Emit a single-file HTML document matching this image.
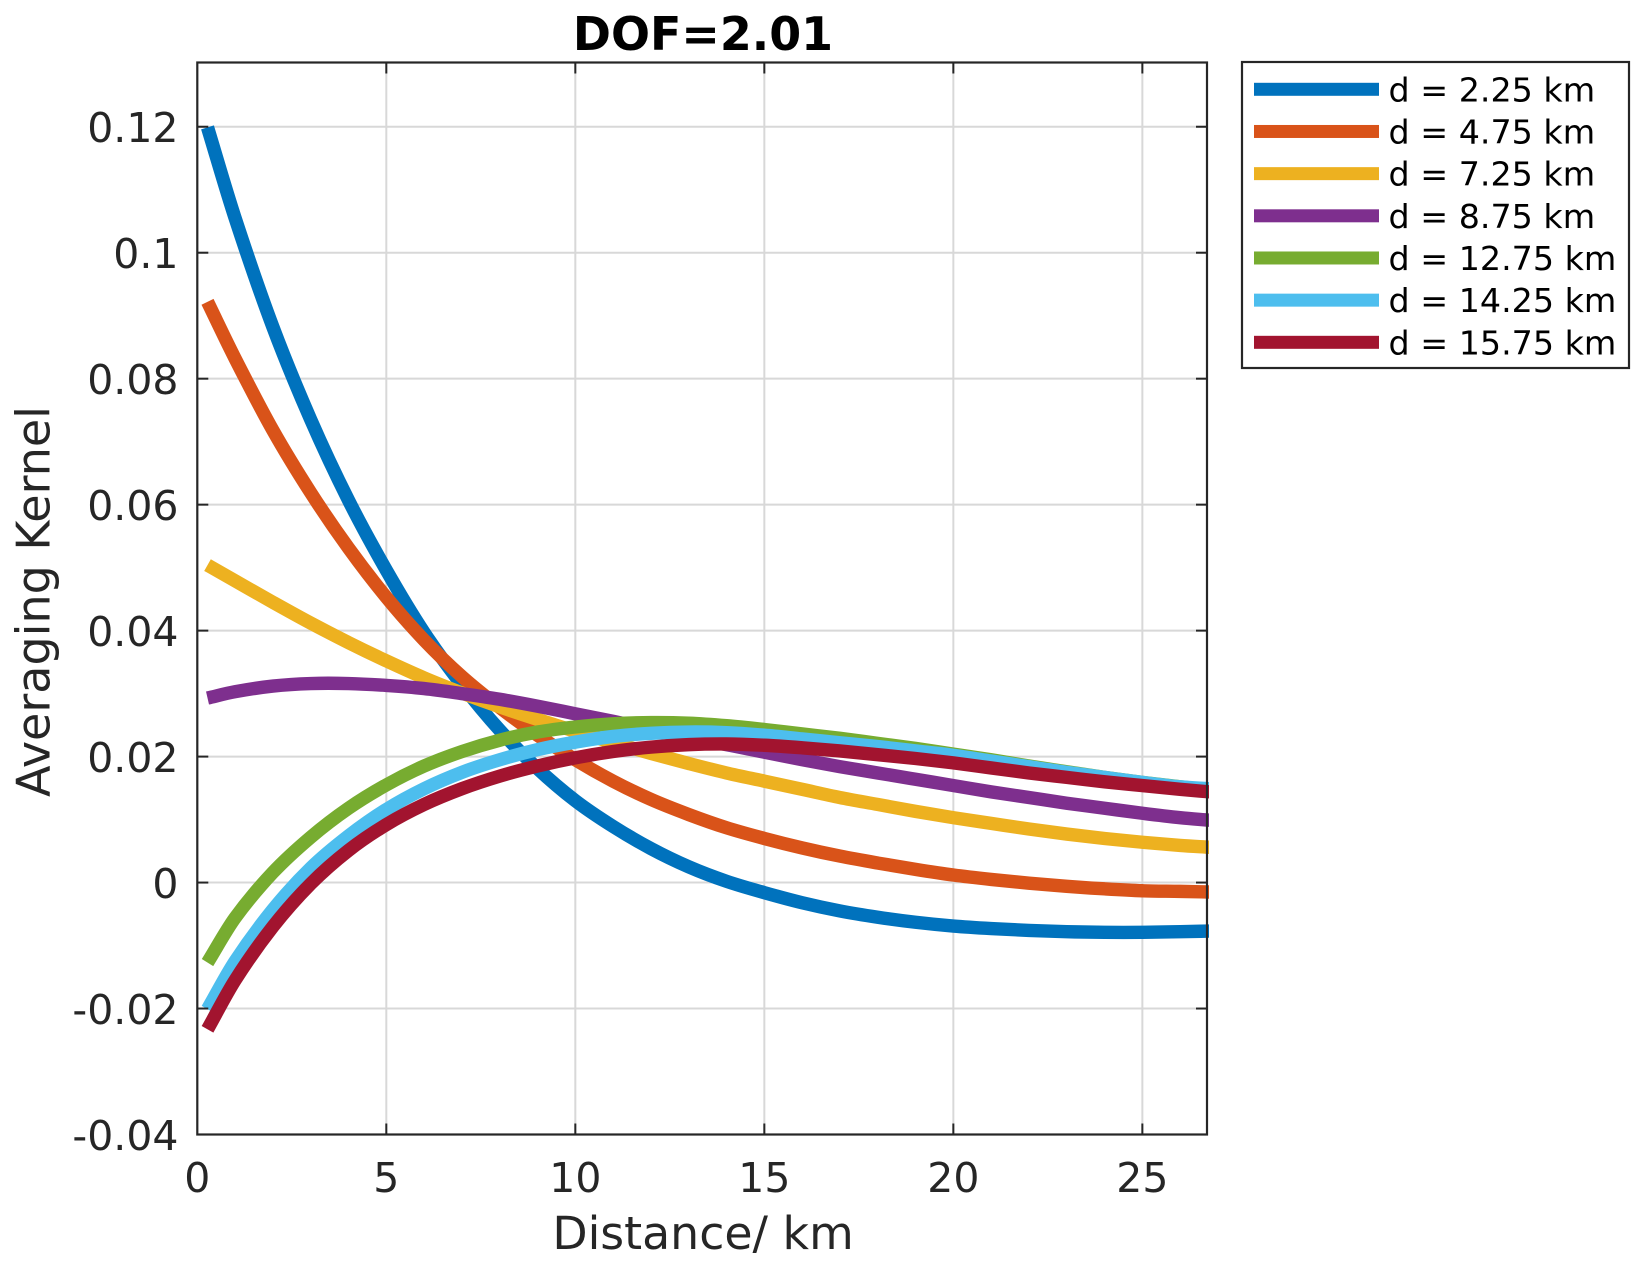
<!DOCTYPE html>
<html lang="en">
<head>
<meta charset="utf-8">
<title>DOF=2.01 Averaging Kernel</title>
<style>
  html, body { margin: 0; padding: 0; background: #ffffff; }
  svg { display: block; }
  text { font-family: "DejaVu Sans", "Liberation Sans", sans-serif; }
</style>
</head>
<body>
<svg id="chart" xmlns="http://www.w3.org/2000/svg" width="1652" height="1268" viewBox="0 0 1652 1268">
  <rect x="0" y="0" width="1652" height="1268" fill="#ffffff"/>
  <defs>
    <clipPath id="plot-clip"><rect x="197" y="60" width="1012" height="1076"/></clipPath>
  </defs>
  <g id="grid"></g>
  <g id="series" clip-path="url(#plot-clip)"></g>
  <g id="axes"></g>
  <text x="703" y="50" text-anchor="middle" font-size="45.9" font-weight="bold" fill="#000000">DOF=2.01</text>
  <text x="703" y="1249" text-anchor="middle" font-size="45.8" fill="#262626">Distance/ km</text>
  <text transform="translate(49.5,601.5) rotate(-90)" text-anchor="middle" font-size="46" fill="#262626">Averaging Kernel</text>
  <g id="legend"></g>
</svg>
<script>
const xTicks = [0, 5, 10, 15, 20, 25];
const yTicks = [-0.04, -0.02, 0, 0.02, 0.04, 0.06, 0.08, 0.1, 0.12];
const yTickLabels = ["-0.04", "-0.02", "0", "0.02", "0.04", "0.06", "0.08", "0.1", "0.12"];
const distance = [0.27, 1, 2, 3, 4, 5, 6, 7, 8, 9, 10, 11, 12, 13, 14, 15, 16, 17, 18, 19, 20, 21, 22, 23, 24, 25, 26, 26.78];
const seriesNames = ["d = 2.25 km", "d = 4.75 km", "d = 7.25 km", "d = 8.75 km", "d = 12.75 km", "d = 14.25 km", "d = 15.75 km"];
const seriesColors = ["#0072bd", "#d95319", "#edb120", "#7e2f8e", "#77ac30", "#4dbeee", "#a2142f"];
const kernelD225 = [0.1199, 0.1055, 0.0882, 0.0735, 0.0607, 0.0496, 0.0397, 0.0314, 0.0242, 0.0181, 0.0130, 0.0089, 0.0054, 0.0025, 0.0002, -0.0016, -0.0032, -0.0045, -0.0055, -0.0063, -0.0069, -0.0073, -0.0076, -0.0078, -0.0079, -0.0079, -0.0078, -0.0077];
const kernelD475 = [0.0922, 0.0832, 0.0718, 0.0619, 0.0531, 0.0453, 0.0385, 0.0327, 0.0278, 0.0234, 0.0195, 0.0161, 0.0132, 0.0108, 0.0087, 0.0070, 0.0055, 0.0042, 0.0031, 0.0021, 0.0012, 0.0005, -0.0001, -0.0006, -0.0010, -0.0013, -0.0014, -0.0015];
const kernelD725 = [0.0504, 0.0479, 0.0445, 0.0412, 0.0381, 0.0352, 0.0325, 0.0301, 0.0279, 0.0259, 0.0240, 0.0222, 0.0205, 0.0189, 0.0174, 0.0161, 0.0148, 0.0135, 0.0124, 0.0113, 0.0103, 0.0094, 0.0085, 0.0077, 0.0070, 0.0064, 0.0059, 0.0056];
const kernelD875 = [0.0293, 0.0303, 0.0312, 0.0316, 0.0316, 0.0313, 0.0308, 0.0300, 0.0291, 0.0280, 0.0268, 0.0256, 0.0243, 0.0231, 0.0219, 0.0207, 0.0195, 0.0184, 0.0174, 0.0164, 0.0154, 0.0144, 0.0135, 0.0126, 0.0118, 0.0110, 0.0103, 0.0099];
const kernelD1275 = [-0.0127, -0.0056, 0.0016, 0.0072, 0.0118, 0.0155, 0.0185, 0.0208, 0.0226, 0.0239, 0.0247, 0.0252, 0.0254, 0.0253, 0.0249, 0.0243, 0.0236, 0.0229, 0.0221, 0.0213, 0.0204, 0.0195, 0.0185, 0.0176, 0.0167, 0.0159, 0.0152, 0.0147];
const kernelD1425 = [-0.0201, -0.0125, -0.0043, 0.0023, 0.0074, 0.0116, 0.0149, 0.0175, 0.0195, 0.0211, 0.0223, 0.0232, 0.0237, 0.0239, 0.0238, 0.0234, 0.0228, 0.0222, 0.0216, 0.0209, 0.0202, 0.0193, 0.0184, 0.0175, 0.0167, 0.0159, 0.0152, 0.0149];
const kernelD1575 = [-0.0233, -0.0155, -0.0070, -0.0002, 0.0051, 0.0092, 0.0124, 0.0149, 0.0169, 0.0185, 0.0198, 0.0208, 0.0215, 0.0219, 0.0220, 0.0218, 0.0214, 0.0209, 0.0203, 0.0197, 0.0190, 0.0182, 0.0174, 0.0167, 0.0160, 0.0154, 0.0148, 0.0144];
const kernels = [kernelD225, kernelD475, kernelD725, kernelD875, kernelD1275, kernelD1425, kernelD1575];

const NS = "http://www.w3.org/2000/svg";
const plotLeft = 197.3, plotRight = 1207, plotTop = 62.5, plotBottom = 1134.5;
const xMin = 0, xMax = 26.71, yMin = -0.04, yMax = 0.1302;
function xScale(v) { return plotLeft + (v - xMin) / (xMax - xMin) * (plotRight - plotLeft); }
function yScale(v) { return plotBottom - (v - yMin) / (yMax - yMin) * (plotBottom - plotTop); }
function shape(tag, attrs, parent) {
  const el = document.createElementNS(NS, tag);
  for (const k in attrs) el.setAttribute(k, attrs[k]);
  parent.appendChild(el);
  return el;
}
function smoothPath(xs, ys) {
  const pts = xs.map((x, i) => [xScale(x), yScale(ys[i])]);
  const n = pts.length;
  const slopes = pts.map(function (p, i) {
    const a = pts[Math.max(i - 1, 0)], b = pts[Math.min(i + 1, n - 1)];
    return (b[1] - a[1]) / (b[0] - a[0]);
  });
  let d = "M" + pts[0][0].toFixed(2) + " " + pts[0][1].toFixed(2);
  for (let i = 0; i < n - 1; i++) {
    const h = (pts[i + 1][0] - pts[i][0]) / 3;
    d += "C" + (pts[i][0] + h).toFixed(2) + " " + (pts[i][1] + slopes[i] * h).toFixed(2) + " " +
      (pts[i + 1][0] - h).toFixed(2) + " " + (pts[i + 1][1] - slopes[i + 1] * h).toFixed(2) + " " +
      pts[i + 1][0].toFixed(2) + " " + pts[i + 1][1].toFixed(2);
  }
  return d;
}

const gridG = document.getElementById("grid");
const seriesG = document.getElementById("series");
const axesG = document.getElementById("axes");
const legendG = document.getElementById("legend");
const gridColor = "#d8d8d8", axisColor = "#262626";

xTicks.forEach(function (t) {
  const x = xScale(t);
  if (t !== 0) {
    const g = shape("line", { x1: x, x2: x, y1: plotTop, y2: plotBottom, stroke: gridColor, "stroke-width": 2 }, gridG);
    
    
    const tb = shape("line", { x1: x, x2: x, y1: plotBottom, y2: plotBottom - 11, stroke: axisColor, "stroke-width": 2 }, axesG);
    
    
    const tt = shape("line", { x1: x, x2: x, y1: plotTop, y2: plotTop + 11, stroke: axisColor, "stroke-width": 2 }, axesG);
    
    
  }
  const label = shape("text", { x: x, y: 1192, "text-anchor": "middle", "font-size": 41, fill: axisColor }, axesG);
  label.textContent = String(t);
  
  
});

yTicks.forEach(function (t, i) {
  const y = yScale(t);
  if (i !== 0) {
    const g = shape("line", { x1: plotLeft, x2: plotRight, y1: y, y2: y, stroke: gridColor, "stroke-width": 2 }, gridG);
    
    
    const tl = shape("line", { x1: plotLeft, x2: plotLeft + 11, y1: y, y2: y, stroke: axisColor, "stroke-width": 2 }, axesG);
    
    
    const tr = shape("line", { x1: plotRight, x2: plotRight - 11, y1: y, y2: y, stroke: axisColor, "stroke-width": 2 }, axesG);
    
    
  }
  const label = shape("text", { x: 178.5, y: y + 15.3, "text-anchor": "end", "font-size": 41, fill: axisColor }, axesG);
  label.textContent = yTickLabels[i];
  
  
});

const frame = shape("rect", { x: plotLeft, y: plotTop, width: plotRight - plotLeft, height: plotBottom - plotTop, fill: "none", stroke: axisColor, "stroke-width": 2.2 }, axesG);



kernels.forEach(function (values, i) {
  const p = shape("path", { d: smoothPath(distance, values), fill: "none", stroke: seriesColors[i], "stroke-width": 13.4, "stroke-linejoin": "round", "stroke-linecap": "butt" }, seriesG);
  
  
});

const legendBox = shape("rect", { x: 1242, y: 62, width: 387, height: 306, fill: "#ffffff", stroke: axisColor, "stroke-width": 2.2 }, legendG);


seriesNames.forEach(function (name, i) {
  const rowY = 89.3 + i * 42.17;
  const swatch = shape("rect", { x: 1254, y: rowY - 6.5, width: 125, height: 13, fill: seriesColors[i] }, legendG);
  
  
  const label = shape("text", { x: 1388.5, y: rowY + 12, "font-size": 33.3, fill: "#000000" }, legendG);
  label.textContent = name;
  
  
});
</script>
</body>
</html>
